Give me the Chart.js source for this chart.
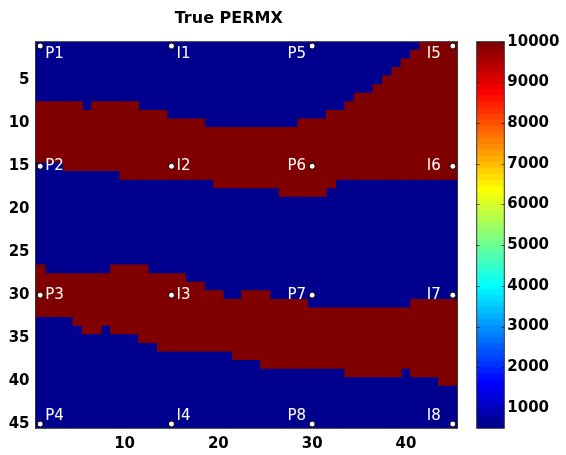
<!DOCTYPE html>
<html>
<head>
<meta charset="utf-8">
<title>True PERMX</title>
<script src="https://cdn.jsdelivr.net/npm/chart.js@4.4.0/dist/chart.umd.min.js"></script>
<style>
  body { margin: 0; background: #fff; }
  #wrap { position: relative; width: 566px; height: 455px; }
  #permx { position: absolute; left: 0; top: 0; }
  #cbar { position: absolute; left: 466px; top: 0; }
</style>
</head>
<body>
<div id="wrap">
  <canvas id="permx" width="493" height="455"></canvas>
  <canvas id="cbar" width="100" height="455"></canvas>
</div>
<script>
// grid is 45 x 45 cells, two permeability values
const lowPerm = 500;
const highPerm = 10000;

// first / last high-perm row of the upper channel, column 1..45
const upperTop = [8,8,8,8,8,9,8,8,8,8,8,9,9,9,10,10,10,10,11,11,11,11,11,11,11,11,11,11,10,10,10,9,9,8,7,7,6,5,4,3,2,1,1,1,1];
const upperBottom = [14,14,14,15,15,15,15,15,15,16,16,16,16,16,16,16,16,16,16,17,17,17,17,17,17,17,18,18,18,18,18,17,16,16,16,16,16,16,16,16,16,16,16,16,16];

// first / last high-perm row of the lower channel
const lowerTop = [27,28,28,28,28,28,28,28,27,27,27,27,28,28,28,28,29,29,30,30,31,31,30,30,30,31,31,31,31,32,32,32,32,32,32,32,32,32,32,32,31,31,31,31,31];
const lowerBottom = [32,32,32,32,33,34,34,33,34,34,34,35,35,36,36,36,36,36,36,36,36,37,37,37,38,38,38,38,38,38,38,38,38,39,39,39,39,39,39,38,39,39,39,40,40];

// wells
const wellNames = ['P1','P2','P3','P4','I1','I2','I3','I4','P5','P6','P7','P8','I5','I6','I7','I8'];
const wellCols = [1,1,1,1,15,15,15,15,30,30,30,30,45,45,45,45];
const wellRows = [1,15,30,45,1,15,30,45,1,15,30,45,1,15,30,45];

const xTicks = [10,20,30,40];
const yTicks = [5,10,15,20,25,30,35,40,45];
const cbarTicks = [1000,2000,3000,4000,5000,6000,7000,8000,9000,10000];

const columns = upperTop.map((v, i) => i + 1);

// matlab jet(64)
function jetColor(k) {
  const u = j => (j < 1 || j > 47) ? 0 : (j <= 16 ? j / 16 : (j <= 31 ? 1 : (48 - j) / 16));
  const r = u(k - 24), g = u(k - 8), b = u(k + 8);
  return 'rgb(' + Math.round(r * 255) + ',' + Math.round(g * 255) + ',' + Math.round(b * 255) + ')';
}
function permColor(v) {
  let k = Math.floor((v - lowPerm) / (highPerm - lowPerm) * 64) + 1;
  return jetColor(Math.min(64, Math.max(1, k)));
}

const tickFont = { family: 'DejaVu Sans', weight: 'bold', size: 15 };

const barOpts = {
  grouped: false,
  categoryPercentage: 1,
  barPercentage: 1,
  borderWidth: 0,
  inflateAmount: 0.5
};

// well labels + box
const wellLabels = {
  id: 'wellLabels',
  afterDatasetsDraw(chart) {
    const ctx = chart.ctx;
    const xs = chart.scales.x, ys = chart.scales.y;
    const a = chart.chartArea;
    ctx.save();
    ctx.strokeStyle = '#333';
    ctx.lineWidth = 1;
    ctx.strokeRect(a.left, a.top, a.right - a.left, a.bottom - a.top);
    ctx.font = '15px "DejaVu Sans"';
    ctx.fillStyle = '#fff';
    ctx.textBaseline = 'middle';
    wellNames.forEach((name, i) => {
      const px = xs.getPixelForValue(wellCols[i]);
      let py = ys.getPixelForValue(wellRows[i]);
      if (wellRows[i] == 1) py += 8;
      if (wellRows[i] == 45) py -= 8;
      if (wellCols[i] < 30) {
        ctx.textAlign = 'left';
        ctx.fillText(name, px + 5, py);
      } else {
        ctx.textAlign = 'right';
        ctx.fillText(name, px - (wellCols[i] == 45 ? 12 : 6), py);
      }
    });
    ctx.restore();
  }
};

new Chart(document.getElementById('permx'), {
  type: 'bar',
  data: {
    datasets: [
      Object.assign({
        label: 'background',
        data: columns.map(c => ({ x: c, y: [0.5, 45.5] })),
        backgroundColor: permColor(lowPerm),
        order: 3
      }, barOpts),
      Object.assign({
        label: 'upper channel',
        data: columns.map((c, i) => ({ x: c, y: [upperTop[i] - 0.5, upperBottom[i] + 0.5] })),
        backgroundColor: permColor(highPerm),
        order: 2
      }, barOpts),
      Object.assign({
        label: 'lower channel',
        data: columns.map((c, i) => ({ x: c, y: [lowerTop[i] - 0.5, lowerBottom[i] + 0.5] })),
        backgroundColor: permColor(highPerm),
        order: 2
      }, barOpts),
      {
        type: 'scatter',
        label: 'wells',
        data: wellCols.map((c, i) => ({ x: c, y: wellRows[i] })),
        pointRadius: 3,
        pointBackgroundColor: '#fff',
        pointBorderColor: '#000',
        pointBorderWidth: 1,
        clip: false,
        order: 0
      }
    ]
  },
  options: {
    responsive: false,
    animation: false,
    devicePixelRatio: 1,
    layout: { padding: { top: 0, right: 35.5, bottom: 0, left: 0 } },
    plugins: {
      legend: { display: false },
      tooltip: { enabled: false },
      title: {
        display: true,
        text: 'True PERMX',
        color: '#000',
        font: { family: 'DejaVu Sans', weight: 'bold', size: 16 },
        padding: { top: 9, bottom: 13.5 }
      }
    },
    scales: {
      x: {
        type: 'linear',
        min: 0.5,
        max: 45.5,
        offset: false,
        grid: { display: false, drawTicks: false, offset: false },
        border: { display: false },
        ticks: { font: tickFont, color: '#000', padding: 7, maxRotation: 0, autoSkip: false },
        afterBuildTicks: s => { s.ticks = xTicks.map(v => ({ value: v })); },
        afterFit: s => { s.height = 26.7; }
      },
      y: {
        type: 'linear',
        reverse: true,
        min: 0.5,
        max: 45.5,
        grid: { display: false, drawTicks: false },
        border: { display: false },
        ticks: { font: tickFont, color: '#000', padding: 6, autoSkip: false },
        afterBuildTicks: s => { s.ticks = yTicks.map(v => ({ value: v })); },
        afterFit: s => { s.width = 35.5; }
      }
    }
  },
  plugins: [wellLabels]
});

// colorbar
const cbarSteps = 64;
const cbarSets = [];
for (let k = 1; k <= cbarSteps; k++) {
  const lo = lowPerm + (k - 1) * (highPerm - lowPerm) / cbarSteps;
  const hi = lowPerm + k * (highPerm - lowPerm) / cbarSteps;
  cbarSets.push(Object.assign({ data: [[lo, hi]], backgroundColor: jetColor(k) }, barOpts));
}

const cbarFrame = {
  id: 'cbarFrame',
  afterDatasetsDraw(chart) {
    const ctx = chart.ctx;
    const a = chart.chartArea;
    const ys = chart.scales.y;
    ctx.save();
    ctx.strokeStyle = '#333';
    ctx.lineWidth = 1;
    ctx.strokeRect(a.left, a.top, a.right - a.left, a.bottom - a.top);
    ctx.beginPath();
    cbarTicks.forEach(v => {
      const y = Math.round(ys.getPixelForValue(v)) + 0.5;
      ctx.moveTo(a.left, y); ctx.lineTo(a.left + 3, y);
      ctx.moveTo(a.right - 3, y); ctx.lineTo(a.right, y);
    });
    ctx.strokeStyle = 'rgba(0,0,0,0.6)';
    ctx.stroke();
    ctx.restore();
  }
};

new Chart(document.getElementById('cbar'), {
  type: 'bar',
  data: { labels: [''], datasets: cbarSets },
  options: {
    responsive: false,
    animation: false,
    devicePixelRatio: 1,
    layout: { padding: { top: 41.7, right: 0, bottom: 26.7, left: 10.7 } },
    plugins: { legend: { display: false }, tooltip: { enabled: false } },
    scales: {
      x: { display: false },
      y: {
        position: 'right',
        min: lowPerm,
        max: highPerm,
        grid: { display: false, drawTicks: false },
        border: { display: false },
        ticks: { font: tickFont, color: '#000', padding: 3, autoSkip: false, callback: v => String(v) },
        afterBuildTicks: s => { s.ticks = cbarTicks.map(v => ({ value: v })); },
        afterFit: s => { s.width = 61.7; }
      }
    }
  },
  plugins: [cbarFrame]
});
</script>
</body>
</html>
